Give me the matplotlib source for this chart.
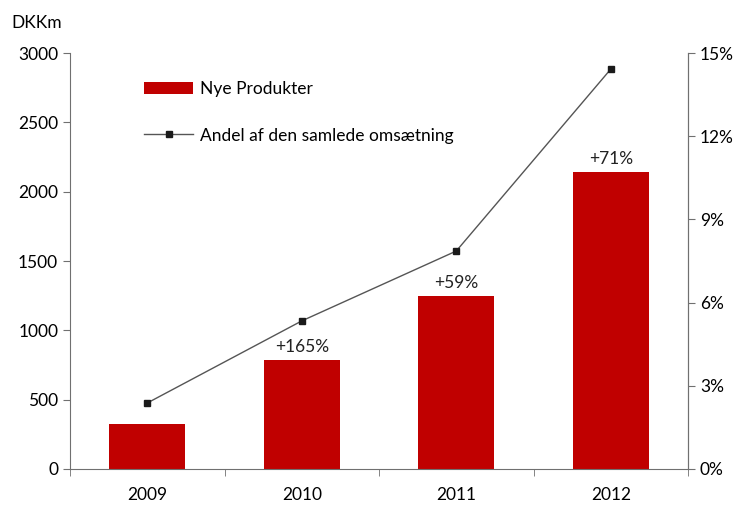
import matplotlib.pyplot as plt
from matplotlib.ticker import FuncFormatter, FixedLocator

years = ['2009', '2010', '2011', '2012']
nye_produkter = [325, 785, 1250, 2140]
andel = [2.38, 5.34, 7.86, 14.42]
vaekst = ['', '+165%', '+59%', '+71%']

plt.rcParams['font.family'] = ['Lato', 'DejaVu Sans']
red = '#C00000'
axcol = '#707070'
fs = 12.5

fig = plt.figure(figsize=(7.41, 5.05), dpi=100)
ax = fig.add_axes([0.0945, 0.0713, 0.834, 0.8237])
x = list(range(len(years)))

bars = ax.bar(x, nye_produkter, width=0.49, color=red, label='Nye Produkter', zorder=2)
for xi, v, t in zip(x, nye_produkter, vaekst):
    if t:
        ax.text(xi, v + 35, t, ha='center', va='bottom', fontsize=fs, color='#222222')

ax.set_xlim(-0.5, 3.5)
ax.set_ylim(0, 3000)
ax.set_yticks(range(0, 3001, 500))
ax.set_xticks(x)
ax.set_xticklabels(years)
ax.xaxis.set_minor_locator(FixedLocator([-0.5, 0.5, 1.5, 2.5, 3.5]))
ax.tick_params(axis='x', which='major', length=0, pad=13, labelsize=fs)
ax.tick_params(axis='x', which='minor', length=5, direction='out', color=axcol)
ax.tick_params(axis='y', length=5, direction='out', color=axcol, labelsize=fs)
ax.spines['top'].set_visible(False)
for s in ['left', 'bottom', 'right']:
    ax.spines[s].set_color(axcol)

ax2 = ax.twinx()
line, = ax2.plot(x, andel, color='#555555', lw=1, marker='s', markersize=4.5,
                 markerfacecolor='#1a1a1a', markeredgecolor='#1a1a1a',
                 label='Andel af den samlede omsætning', zorder=3)
ax2.set_ylim(0, 15)
ax2.set_yticks(range(0, 16, 3))
ax2.yaxis.set_major_formatter(FuncFormatter(lambda v, p: '%d%%' % v))
ax2.tick_params(axis='y', length=5, direction='out', color=axcol, labelsize=fs)
ax2.spines['top'].set_visible(False)
ax2.spines['right'].set_color(axcol)
ax2.spines['left'].set_visible(False)
ax2.spines['bottom'].set_visible(False)

ax2.legend([bars, line], ['Nye Produkter', 'Andel af den samlede omsætning'],
           loc='upper left', bbox_to_anchor=(0.095, 0.97), frameon=False,
           fontsize=fs, handlelength=2.8, handletextpad=0.4, labelspacing=1.75)

fig.text(0.016, 0.955, 'DKKm', fontsize=fs, va='center', ha='left')

fig.savefig('out.png', dpi=100)
